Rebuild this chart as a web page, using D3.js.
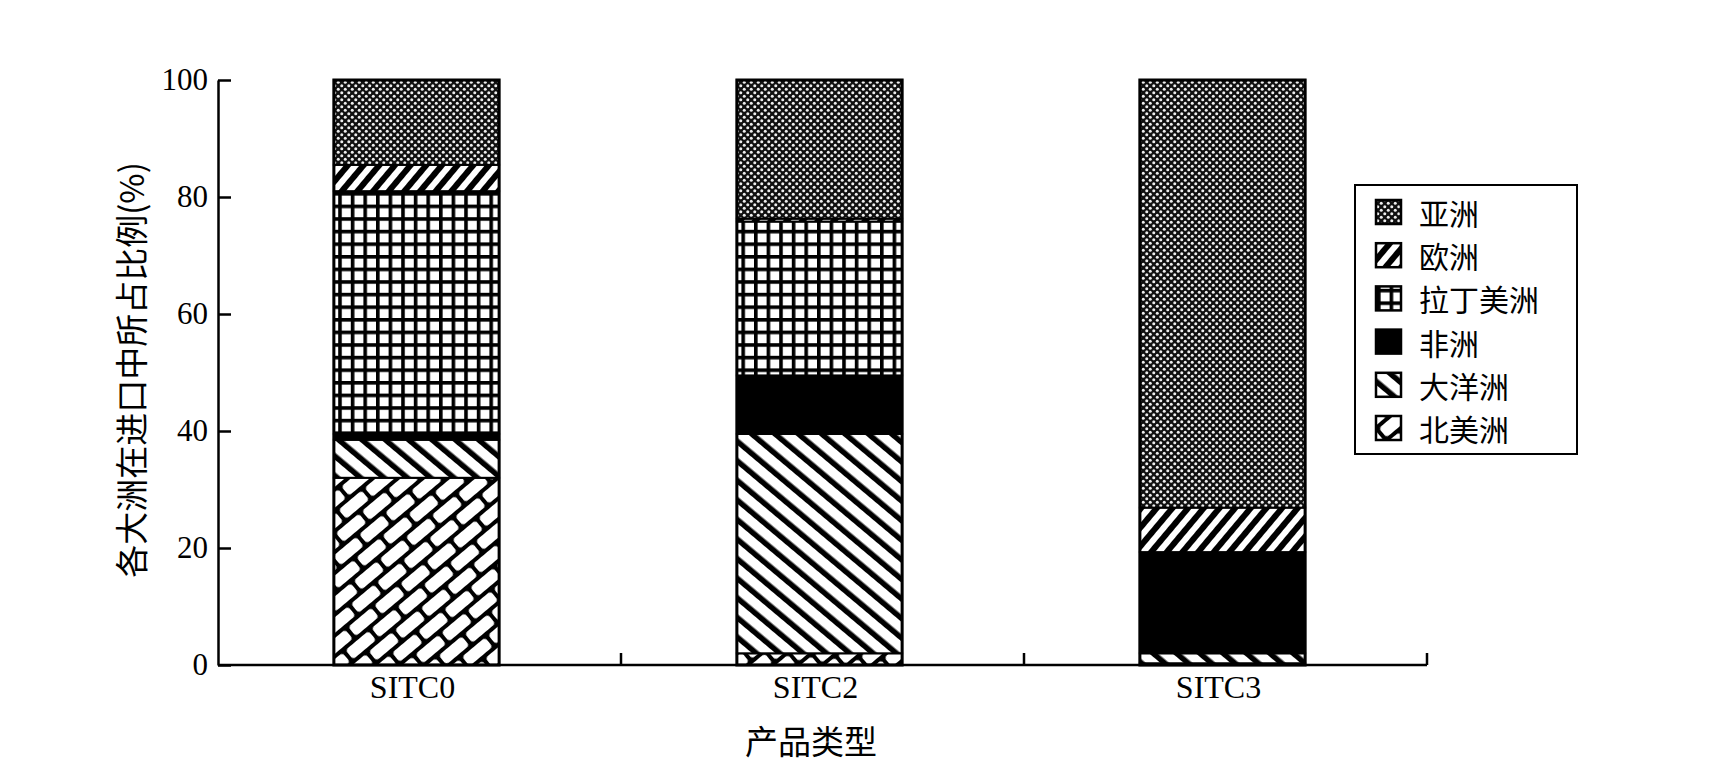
<!DOCTYPE html>
<html>
<head>
<meta charset="utf-8">
<script src="https://cdn.jsdelivr.net/npm/d3@7"></script>
<style>
  body { margin: 0; background: #fff; }
  svg { display: block; }
</style>
</head>
<body>
<svg width="1724" height="765"></svg>
<script>
// data (percent, bottom to top of each bar)
const categories = ['SITC0', 'SITC2', 'SITC3'];
const regions = ['北美洲', '大洋洲', '非洲', '拉丁美洲', '欧洲', '亚洲'];
const northAmerica = [32, 2, 0.3];
const oceania = [6.5, 37.5, 1.7];
const africa = [1, 10, 17.3];
const latinAmerica = [41.5, 26.3, 0];
const europe = [4.5, 0.5, 7.6];
const asia = [14.5, 23.7, 73.1];
const yTicks = [0, 20, 40, 60, 80, 100];
const legendOrder = ['亚洲', '欧洲', '拉丁美洲', '非洲', '大洋洲', '北美洲'];

const seriesValues = {
  '北美洲': northAmerica, '大洋洲': oceania, '非洲': africa,
  '拉丁美洲': latinAmerica, '欧洲': europe, '亚洲': asia
};
const fillOf = {
  '亚洲': 'url(#p-asia)', '欧洲': 'url(#p-europe)', '拉丁美洲': 'url(#p-latin)',
  '非洲': '#000', '大洋洲': 'url(#p-oceania)', '北美洲': 'url(#p-na)'
};

const svg = d3.select('svg');
const plotLeft = 218, plotRight = 1427, plotTop = 80, plotBottom = 665;
const cjk = '"Noto Sans CJK SC", sans-serif';
const serif = '"Liberation Serif", "DejaVu Serif", serif';

// patterns
const defs = svg.append('defs');

const pa = defs.append('pattern').attr('id', 'p-asia')
  .attr('patternUnits', 'userSpaceOnUse').attr('width', 7).attr('height', 7);
pa.append('rect').attr('width', 7).attr('height', 7).attr('fill', '#111');
pa.append('circle').attr('cx', 1.75).attr('cy', 1.75).attr('r', 1.5).attr('fill', '#eee');
pa.append('circle').attr('cx', 5.25).attr('cy', 5.25).attr('r', 1.5).attr('fill', '#eee');

const pe = defs.append('pattern').attr('id', 'p-europe')
  .attr('patternUnits', 'userSpaceOnUse').attr('width', 12).attr('height', 12)
  .attr('patternTransform', 'rotate(40)');
pe.append('rect').attr('width', 12).attr('height', 12).attr('fill', '#fff');
pe.append('rect').attr('width', 6).attr('height', 12).attr('fill', '#000');

const pl = defs.append('pattern').attr('id', 'p-latin')
  .attr('patternUnits', 'userSpaceOnUse').attr('width', 12.6).attr('height', 12.6)
  .attr('x', 1).attr('y', 3);
pl.append('rect').attr('width', 12.6).attr('height', 12.6).attr('fill', '#000');
pl.append('rect').attr('x', 3.6).attr('y', 3.6).attr('width', 9).attr('height', 9).attr('fill', '#fff');

const po = defs.append('pattern').attr('id', 'p-oceania')
  .attr('patternUnits', 'userSpaceOnUse').attr('width', 15).attr('height', 15)
  .attr('patternTransform', 'rotate(-50)');
po.append('rect').attr('width', 15).attr('height', 15).attr('fill', '#fff');
po.append('rect').attr('width', 5.5).attr('height', 15).attr('fill', '#000');

const pn = defs.append('pattern').attr('id', 'p-na')
  .attr('patternUnits', 'userSpaceOnUse').attr('width', 34).attr('height', 32)
  .attr('patternTransform', 'rotate(-40)');
pn.append('rect').attr('width', 34).attr('height', 32).attr('fill', '#000');
[[2, 2], [-15, 18], [19, 18]].forEach(([bx, by]) => {
  pn.append('rect').attr('x', bx).attr('y', by).attr('width', 30).attr('height', 12)
    .attr('rx', 3.5).attr('fill', '#fff');
});

// scales
const x = d3.scaleBand()
  .domain(categories)
  .range([plotLeft, plotRight])
  .paddingInner(0.59)
  .paddingOuter(0.295);
const y = d3.scaleLinear().domain([0, 100]).range([plotBottom, plotTop]);
const barShift = -3;

// stacked bars
const table = categories.map((c, i) => {
  const row = { cat: c };
  regions.forEach(r => { row[r] = seriesValues[r][i]; });
  return row;
});
const stacked = d3.stack().keys(regions)(table);

const bars = svg.append('g').attr('transform', `translate(${barShift},0)`);
stacked.forEach(layer => {
  bars.selectAll(null)
    .data(layer.filter(d => d[1] - d[0] > 0))
    .enter().append('rect')
    .attr('x', d => x(d.data.cat))
    .attr('y', d => y(d[1]))
    .attr('width', x.bandwidth())
    .attr('height', d => y(d[0]) - y(d[1]))
    .attr('fill', fillOf[layer.key])
    .attr('stroke', '#000')
    .attr('stroke-width', 2);
});
// bar outlines
bars.selectAll('.outline')
  .data(table)
  .enter().append('rect')
  .attr('class', 'outline')
  .attr('x', d => x(d.cat))
  .attr('y', d => y(d3.sum(regions, r => d[r])))
  .attr('width', x.bandwidth())
  .attr('height', d => y(0) - y(d3.sum(regions, r => d[r])))
  .attr('fill', 'none')
  .attr('stroke', '#000')
  .attr('stroke-width', 3);

// y axis
const yAxis = svg.append('g')
  .attr('transform', `translate(${plotLeft},0)`)
  .call(d3.axisLeft(y).tickValues(yTicks).tickSize(-13).tickSizeOuter(0).tickPadding(10));
yAxis.selectAll('path, line').attr('stroke', '#000').attr('stroke-width', 2.5);
yAxis.selectAll('text').attr('font-family', serif).attr('font-size', 31).attr('fill', '#000');

// x axis: line with inward ticks at band edges
const xAxis = svg.append('g');
xAxis.append('line')
  .attr('x1', plotLeft).attr('x2', plotRight).attr('y1', plotBottom).attr('y2', plotBottom)
  .attr('stroke', '#000').attr('stroke-width', 2.5);
xAxis.selectAll('.xt')
  .data(categories)
  .enter().append('line')
  .attr('x1', (c, i) => plotLeft + x.step() * (i + 1))
  .attr('x2', (c, i) => plotLeft + x.step() * (i + 1))
  .attr('y1', plotBottom).attr('y2', plotBottom - 12)
  .attr('stroke', '#000').attr('stroke-width', 2.5);
xAxis.selectAll('.xl')
  .data(categories)
  .enter().append('text')
  .attr('x', c => x(c) + x.bandwidth() / 2 - 7)
  .attr('y', 698)
  .attr('text-anchor', 'middle')
  .attr('font-family', serif)
  .attr('font-size', 32)
  .text(c => c);

// axis titles
svg.append('text')
  .attr('x', 811).attr('y', 754)
  .attr('text-anchor', 'middle')
  .attr('font-family', cjk).attr('font-size', 33)
  .text('产品类型');
svg.append('text')
  .attr('transform', 'translate(130,370) rotate(-90)')
  .attr('text-anchor', 'middle')
  .attr('dominant-baseline', 'central')
  .attr('font-family', cjk).attr('font-size', 33)
  .text('各大洲在进口中所占比例(%)');

// legend
const legend = svg.append('g');
legend.append('rect')
  .attr('x', 1355).attr('y', 185).attr('width', 222).attr('height', 269)
  .attr('fill', '#fff').attr('stroke', '#000').attr('stroke-width', 2);
const items = legend.selectAll('.item')
  .data(legendOrder)
  .enter().append('g')
  .attr('transform', (d, i) => `translate(1376,${212 + i * 43.2})`);
items.append('rect')
  .attr('x', 0).attr('y', -12).attr('width', 25).attr('height', 24)
  .attr('fill', d => fillOf[d])
  .attr('stroke', '#000').attr('stroke-width', 2.5);
items.append('text')
  .attr('x', 43).attr('y', 0)
  .attr('dominant-baseline', 'central')
  .attr('font-family', cjk).attr('font-size', 30)
  .text(d => d);
</script>
</body>
</html>
